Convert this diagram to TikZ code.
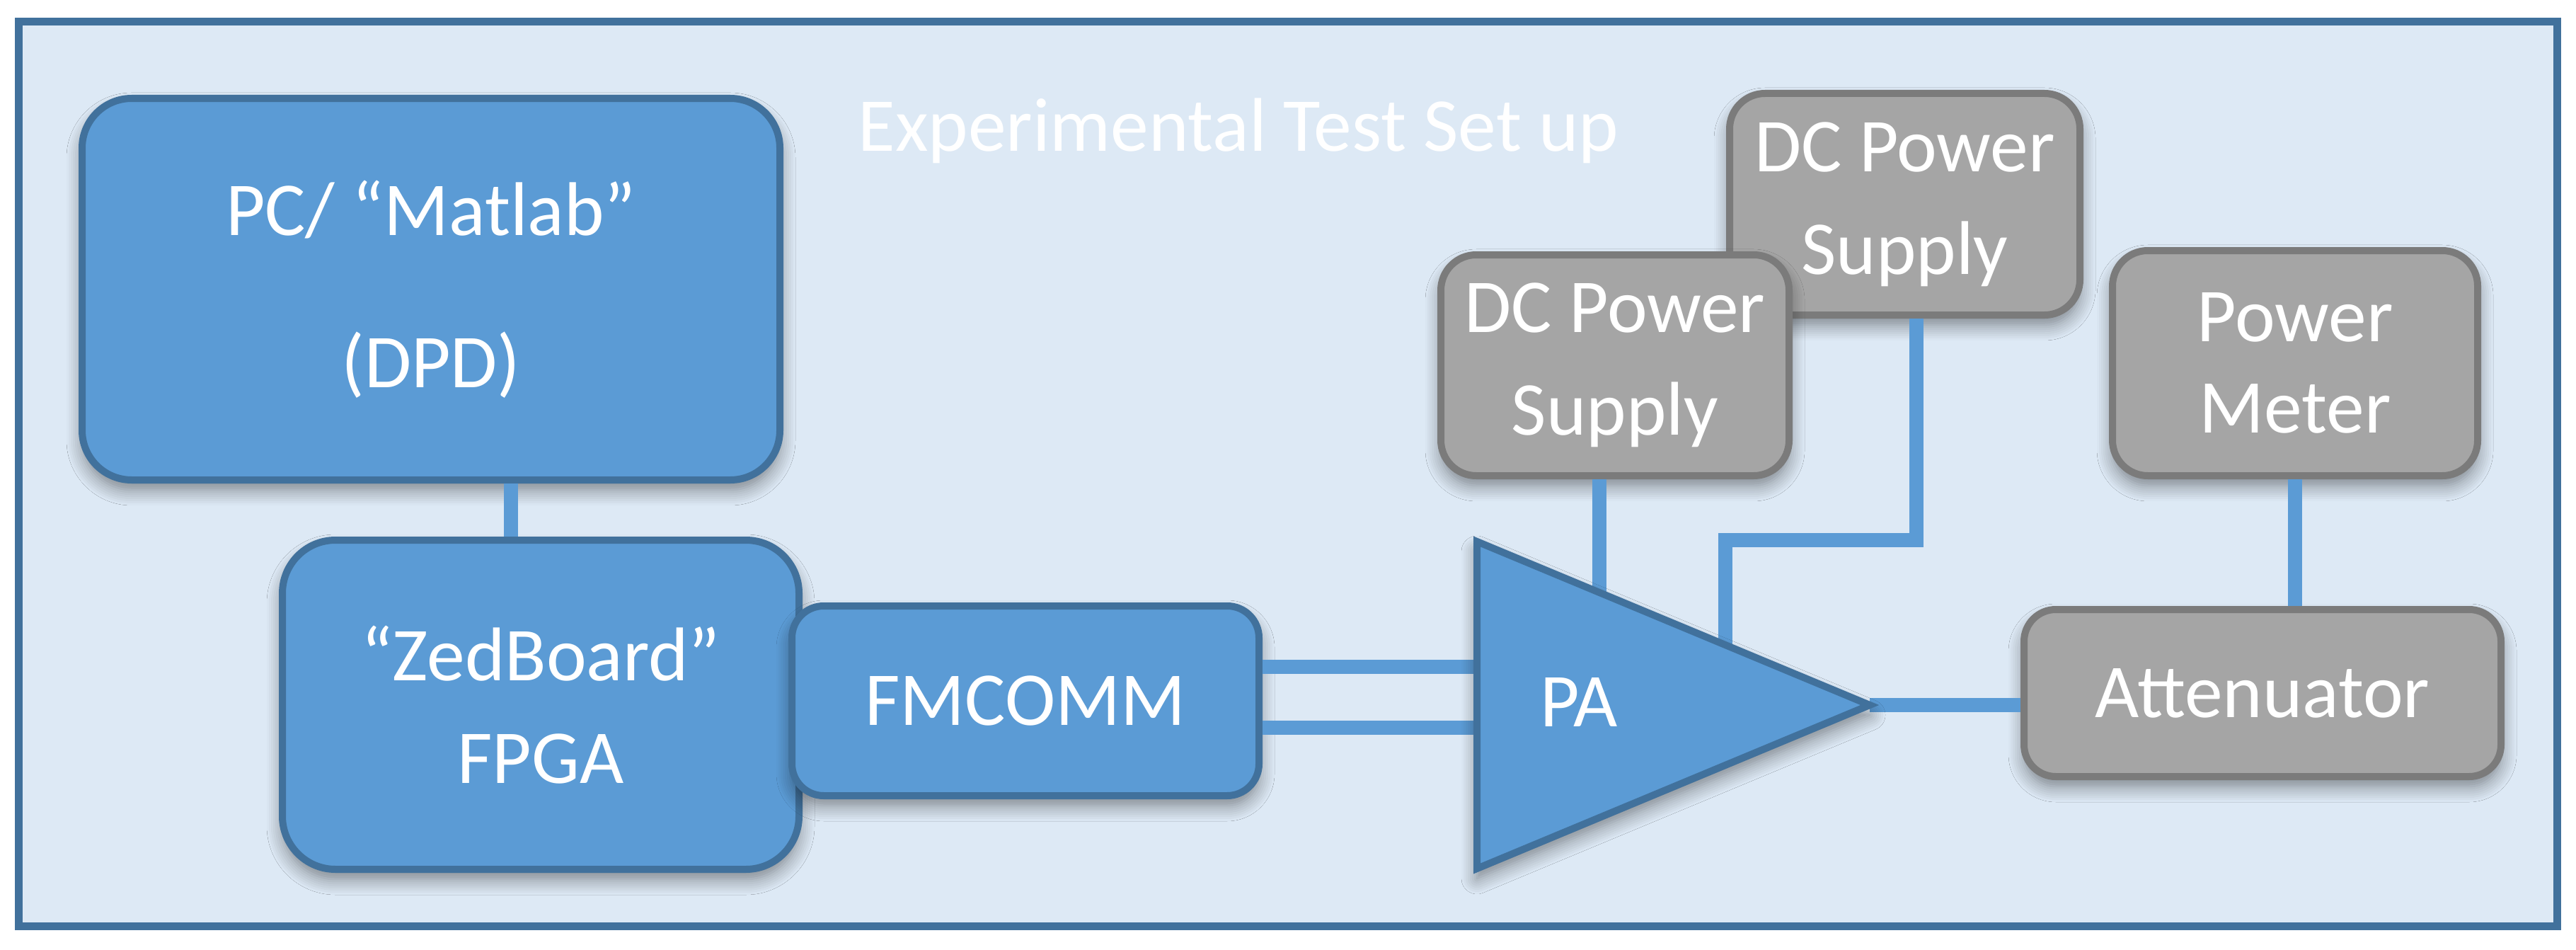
\documentclass[tikz,border=0pt]{standalone}
\usepackage{fontspec}
\setmainfont{Carlito}
\usepackage{xcolor}
\usetikzlibrary{positioning,shadows.blur}
\definecolor{frameblue}{RGB}{65,113,156}
\definecolor{framefill}{RGB}{221,233,245}
\definecolor{mainblue}{RGB}{91,155,213}
\definecolor{maingrey}{RGB}{165,165,165}
\definecolor{darkgrey}{RGB}{123,123,123}
\newcommand{\diagfont}{\fontsize{30.6pt}{41.3pt}\selectfont}

\begin{document}
\begin{tikzpicture}[
    softshadow/.style={blur shadow={shadow xshift=0pt, shadow yshift=-0.14cm,
                       shadow blur radius=0.22cm, shadow blur steps=8, shadow opacity=45}},
    bluebox/.style={draw=frameblue, fill=mainblue, line width=0.1cm, rounded corners=#1,
                    softshadow, text=white, align=center, inner sep=0pt, font=\diagfont},
    greybox/.style={bluebox=#1, draw=darkgrey, fill=maingrey},
    wire/.style={draw=mainblue, line width=0.2cm}
  ]
    \path[use as bounding box, fill=white] (0,0) rectangle (36.4,13.41);
    \draw[frameblue, line width=0.11cm, fill=framefill] (0.265,0.33) rectangle (36.13,13.105);

    \node[text=white, font=\diagfont, anchor=base] (title) at (17.50,11.28) {Experimental Test Set up};

    % boxes
    \node[bluebox=0.7cm, minimum width=9.86cm, minimum height=5.39cm] (pc) at (6.09,9.325) {PC/ “Matlab”\\[20pt](DPD)};
    \node[bluebox=0.75cm, minimum width=7.30cm, minimum height=4.65cm] (zed) at (7.64,3.455) {“ZedBoard”\\FPGA};
    \node[bluebox=0.45cm, minimum width=6.60cm, minimum height=2.68cm] (fm) at (14.49,3.51) {FMCOMM};
    \node[greybox=0.5cm, minimum width=4.95cm, minimum height=3.13cm] (dc2) at (26.915,10.525) {DC Power\\Supply};
    \node[greybox=0.5cm, minimum width=4.92cm, minimum height=3.12cm] (dc1) at (22.82,8.25) {DC Power\\Supply};
    \node[greybox=0.5cm, minimum width=5.16cm, minimum height=3.18cm] (pm) at (32.43,8.28) {Power\\[-4.5pt]Meter};
    \node[greybox=0.45cm, minimum width=6.74cm, minimum height=2.36cm] (att) at (31.97,3.62) {Attenuator};

    % amplifier corners and wire points
    \coordinate (paTop) at (20.87,5.76);
    \coordinate (paBot) at (20.87,1.14);
    \coordinate (paTip) at (26.42,3.45);
    \coordinate (paIn1) at (20.87,3.99);
    \coordinate (paIn2) at (20.87,3.13);
    \coordinate (dcbend) at (24.38,5.78);
    \coordinate (pcfoot) at ([xshift=1.13cm]pc.south);
    \coordinate (dc1foot) at ([xshift=-0.22cm]dc1.south);
    \coordinate (dc2foot) at ([xshift=0.165cm]dc2.south);

    % wires
    \draw[wire] (pcfoot) -- (pcfoot |- zed.north);
    \draw[wire] (paIn1 -| fm.east) -- (paIn1);
    \draw[wire] (paIn2 -| fm.east) -- (paIn2);
    \draw[wire] (dc1foot) -- (dc1foot |- paTip);
    \draw[wire] (dc2foot) |- (dcbend) -- (dcbend |- paTip);
    \draw[wire] (paTip) -- (paTip -| att.west);
    \draw[wire] (pm.south) -- (pm.south |- att.north);

    % amplifier
    \draw[draw=frameblue, fill=mainblue, line width=0.1cm, softshadow] (paTop) -- (paTip) -- (paBot) -- cycle;
    \node[text=white, font=\diagfont] (pa) at (22.31,3.49) {PA};
\end{tikzpicture}
\end{document}
